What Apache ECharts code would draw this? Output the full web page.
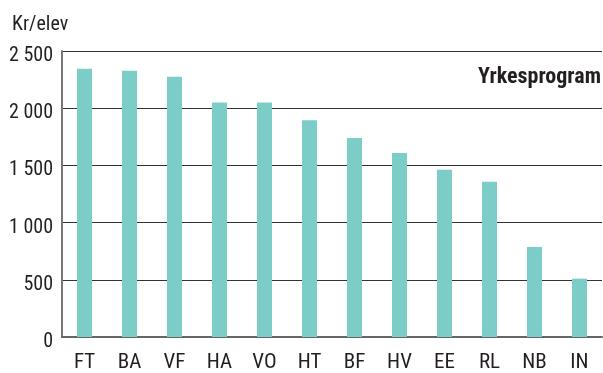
<!DOCTYPE html>
<html>
<head>
<meta charset="utf-8">
<script src="https://cdn.jsdelivr.net/npm/echarts@6/dist/echarts.min.js"></script>
<style>
  html, body { margin: 0; padding: 0; background: #fff; }
  #chart { width: 603px; height: 373px; }
</style>
</head>
<body>
<div id="chart"></div>
<script>
// Programme codes along the x axis
const categories = ['FT', 'BA', 'VF', 'HA', 'VO', 'HT', 'BF', 'HV', 'EE', 'RL', 'NB', 'IN'];
// Kroner per pupil for each programme
const values = [2345, 2327, 2275, 2050, 2050, 1894, 1739, 1609, 1462, 1358, 787, 510];
// Y axis ticks
const yTicks = [0, 500, 1000, 1500, 2000, 2500];
const yUnit = 'Kr/elev';
const panelTitle = 'Yrkesprogram';

const FONT = '"Roboto Condensed", "Liberation Sans", sans-serif';

const chart = echarts.init(document.getElementById('chart'), null, { renderer: 'canvas' });

// Thousands separated by a space
function fmt(v) {
  return String(v).replace(/\B(?=(\d{3})+(?!\d))/g, ' ');
}

chart.setOption({
  animation: false,
  backgroundColor: '#ffffff',
  grid: { left: 62, right: 1, top: 51, bottom: 33, containLabel: false },
  graphic: [
    {
      type: 'text', left: 12, top: 15,
      style: { text: yUnit, font: '20px ' + FONT, fill: '#231f20' }
    },
    {
      type: 'text', right: 2, top: 66,
      style: { text: panelTitle, font: 'bold 22px ' + FONT, fill: '#231f20' }
    }
  ],
  xAxis: {
    type: 'category',
    data: categories,
    axisLine: { show: true, lineStyle: { color: '#666666', width: 2 } },
    axisTick: { show: false },
    axisLabel: { color: '#231f20', fontFamily: FONT, fontSize: 21, margin: 15 }
  },
  yAxis: {
    type: 'value',
    min: yTicks[0],
    max: yTicks[yTicks.length - 1],
    interval: 500,
    axisLine: { show: true, lineStyle: { color: '#777777', width: 2 } },
    axisTick: { show: false },
    splitLine: { show: true, lineStyle: { color: '#333333', width: 1 } },
    axisLabel: {
      color: '#231f20', fontFamily: FONT, fontSize: 20, margin: 9,
      verticalAlign: 'top', lineHeight: 10,
      formatter: fmt
    }
  },
  series: [{
    type: 'bar',
    data: values,
    barWidth: 15,
    itemStyle: { color: '#7ccdc7' }
  }]
});
</script>
</body>
</html>
